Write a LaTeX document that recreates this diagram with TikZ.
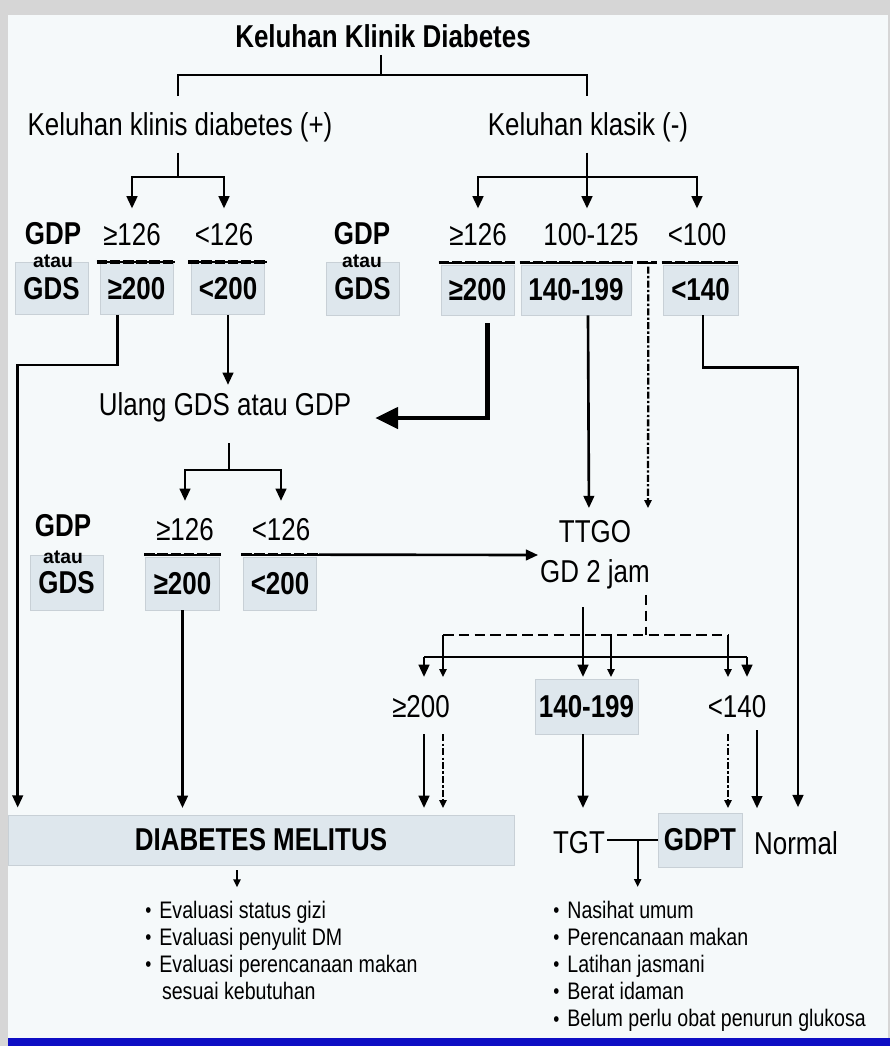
\documentclass[tikz,border=0pt]{standalone}
\usepackage{fontspec}
\setmainfont[FakeStretch=0.82]{Liberation Sans}
\newfontfamily\widefont{Liberation Sans}
\usetikzlibrary{arrows.meta, positioning, calc}

\definecolor{outergray}{RGB}{214,214,214}
\definecolor{panel}{RGB}{245,249,250}
\definecolor{boxfill}{RGB}{222,231,237}
\definecolor{boxline}{RGB}{200,208,214}
\definecolor{barblue}{RGB}{14,14,196}

\newcommand{\itemdot}{\makebox[8pt][l]{\fontsize{12}{12}\selectfont\raisebox{0.5pt}{•}}}

\begin{document}
\begin{tikzpicture}[x=0.02cm, y=-0.02cm,
  txt/.style={font=\fontsize{18}{22}\selectfont, inner sep=1pt},
  btxt/.style={font=\fontsize{18}{22}\selectfont\bfseries, inner sep=1pt},
  atau/.style={font=\widefont\fontsize{11}{11}\selectfont\bfseries, inner sep=0pt},
  valbox/.style={rectangle, fill=boxfill, draw=boxline, line width=0.4pt,
    minimum width=1.46cm, minimum height=1.04cm, inner sep=0pt,
    font=\fontsize{18}{22}\selectfont\bfseries},
  lst/.style={anchor=north west, align=left, inner sep=0pt,
    font=\fontsize{13.6}{15.4}\selectfont},
  link/.style={line width=1.5pt},
  arr/.style={link, -{Triangle[length=7pt,width=6pt]}},
  stip/.style={-{Triangle[length=4.5pt,width=4pt]}},
  sarr/.style={line width=1.2pt, stip},
  bigarr/.style={line width=2.4pt, -{Triangle[length=13pt,width=12pt]}},
  dashdot/.style={line width=1.3pt, dash pattern=on 4pt off 1.3pt on 1.3pt off 1.3pt},
  dashline/.style={line width=1.3pt, dash pattern=on 6pt off 3pt},
  sepline/.style={line width=2pt, dash pattern=on 6pt off 1.5pt,
    preaction={draw, solid, line width=1pt}}]

  \useasboundingbox (0,0) rectangle (890,1046);
  \fill[outergray] (0,0) rectangle (890,1046);
  \fill[panel] (8,15) rectangle (888,1038);
  \fill[barblue] (8,1038) rectangle (890,1046);

  % headings
  \node[btxt] (title) at (383,36) {Keluhan Klinik Diabetes};
  \node[txt] (klinis) at (180,127) {Keluhan klinis diabetes (+)};
  \node[txt] (klasik) at (588,127) {Keluhan klasik (-)};

  % first test, left
  \node[btxt] (gdpA) at (53,234) {GDP};
  \node[valbox] (gdsA) at (51.5,288.5) {GDS};
  \node[atau] (atauA) at (53,261) {atau};
  \node[txt] (geA) at (132,235) {≥126};
  \node[valbox] (gebA) at (136.5,288.5) {≥200};
  \node[txt] (ltA) at (224,235) {<126};
  \node[valbox] (ltbA) at (228,288.5) {<200};

  % first test, right
  \node[btxt] (gdpB) at (362,234) {GDP};
  \node[valbox, minimum height=1.06cm] (gdsB) at (362.5,288.5) {GDS};
  \node[atau] (atauB) at (362,261) {atau};
  \node[txt] (geB) at (478,235) {≥126};
  \node[valbox, minimum height=1.0cm] (gebB) at (477.5,290) {≥200};
  \node[txt] (midB) at (591,235) {100-125};
  \node[valbox, minimum width=2.2cm, minimum height=1.0cm] (midbB) at (576,290) {140-199};
  \node[txt] (ltB) at (697,235) {<100};
  \node[valbox, minimum width=1.5cm, minimum height=1.0cm] (ltbB) at (700.5,290) {<140};

  \node[txt] (ulang) at (225,407) {Ulang GDS atau GDP};

  % second test
  \node[btxt] (gdpC) at (63,526) {GDP};
  \node[valbox, minimum height=1.1cm] (gdsC) at (66.5,582.5) {GDS};
  \node[atau] (atauC) at (63,557) {atau};
  \node[txt] (geC) at (185,530) {≥126};
  \node[valbox, minimum width=1.48cm, minimum height=1.06cm] (gebC) at (182.5,583.5) {≥200};
  \node[txt] (ltC) at (281,530) {<126};
  \node[valbox, minimum height=1.06cm] (ltbC) at (280,583.5) {<200};

  \node[txt, align=center, font=\fontsize{18}{22.7}\selectfont] (ttgo) at (595,555) {TTGO\\GD 2 jam};

  % TTGO result
  \node[txt] (ge200D) at (421,707) {≥200};
  \node[valbox, minimum width=2.06cm, minimum height=1.1cm] (b140D) at (586.5,706.5) {140-199};
  \node[txt] (lt140D) at (737,707) {<140};

  % outcomes
  \node[valbox, minimum width=10.12cm, minimum height=1.0cm] (dm) at (261,840) {DIABETES MELITUS};
  \node[txt] (tgt) at (579,843) {TGT};
  \node[valbox, minimum width=1.68cm, minimum height=1.08cm] (gdpt) at (700,840) {GDPT};
  \node[txt] (normal) at (796,843) {Normal};

  \node[lst] (evalist) at (145,901) {\itemdot Evaluasi status gizi\\
    \itemdot Evaluasi penyulit DM\\
    \itemdot Evaluasi perencanaan makan\\
    \hspace*{9.5pt}sesuai kebutuhan};
  \node[lst] (advlist) at (553,901) {\itemdot Nasihat umum\\
    \itemdot Perencanaan makan\\
    \itemdot Latihan jasmani\\
    \itemdot Berat idaman\\
    \itemdot Belum perlu obat penurun glukosa};

  % separators
  \draw[sepline] ($(gebA.north west)+(-3,0)$) -- ($(gebA.north east)+(2,0)$);
  \draw[sepline] ($(ltbA.north west)+(-3,0)$) -- ($(ltbA.north east)+(2,0)$);
  \draw[sepline] ($(gebB.north west)+(-2,-2)$) -- ($(gebB.north east)+(1,-2)$);
  \draw[sepline] ($(midbB.north west)+(-1,-2)$) -- ($(midbB.north east)+(2,-2)$);
  \draw[sepline] ($(midbB.north east)+(6,-2)$) -- ($(midbB.north east)+(26,-2)$);
  \draw[sepline] ($(ltbB.north west)+(-1,-2)$) -- ($(ltbB.north east)+(0,-2)$);
  \draw[sepline] ($(gebC.north west)+(-1,-2)$) -- ($(gebC.north east)+(1,-2)$);
  \draw[sepline] ($(ltbC.north west)+(-2,-2)$) -- ($(ltbC.north east)+(2,-2)$);

  % junctions
  \coordinate (topj) at (381,75);
  \coordinate (lj) at (178,177);
  \coordinate (rj) at (587,177);
  \coordinate (uj) at (229,470);
  \coordinate (sj) at (583,657);
  \coordinate (sl) at (424,657);
  \coordinate (sr) at (747,657);
  \coordinate (dj) at (646,635);
  \coordinate (dl) at (443,635);
  \coordinate (dmid) at (611,635);
  \coordinate (dr) at (728,635);
  \coordinate (tiprow) at (0,677);
  \coordinate (dmrow) at (0,808);

  \draw[link, shorten <=3pt] (title.south -| topj) -- (topj);
  \draw[link, shorten <=8pt, shorten >=8pt] (klinis.north -| lj) |- (topj) -| (klasik.north -| rj);
  \draw[link, shorten <=5pt] (klinis.south -| lj) -- (lj);
  \draw[link, shorten <=5pt] (klasik.south -| rj) -- (rj);
  \draw[arr, shorten >=7.5pt] (lj) -| (geA.north);
  \draw[arr, shorten >=7.5pt] (lj) -| (ltA.north);
  \draw[arr, shorten >=7.5pt] (rj) -| (geB.north);
  \draw[arr, shorten >=7.5pt] (rj) -- (rj |- midB.north);
  \draw[arr, shorten >=7.5pt] (rj) -| (ltB.north);

  \draw[arr, shorten >=4pt] ($(gebA.south)+(-19,0)$) -- ++(0,50) -| ($(dm.north west)+(10,0)$);
  \draw[arr, shorten >=3pt] (ltbA.south) -- (ltbA.south |- ulang.north);
  \draw[bigarr] ($(gebB.south)+(10,8)$) |- ($(ulang.east)+(22,11)$);
  \draw[arr, shorten >=6pt] ($(midbB.south)+(12,0)$) -- ($(ttgo.north)+(-6,0)$);
  \draw[dashdot, stip, shorten >=6pt] ($(midbB.north east)+(17,2)$) -- ($(ttgo.north)+(53,0)$);
  \draw[arr] ($(ltbB.south)+(2.5,0)$) -- ++(0,52) -| ($(normal.north)+(2,-22)$);

  \draw[link, shorten <=11pt] (ulang.south -| uj) -- (uj);
  \draw[arr, shorten >=9pt] (uj) -| (geC.north);
  \draw[arr, shorten >=9pt] (uj) -| (ltC.north);
  \draw[arr] ($(ltbC.north east)+(2,-2)$) -- (ttgo.west);
  \draw[arr] (gebC.south) -- (gebC.south |- dmrow);

  \draw[link, shorten <=9pt] (ttgo.south -| sj) -- (sj);
  \draw[dashline, shorten <=2pt] (ttgo.south -| dj) -- (dj);
  \draw[link] (sl) -- (sr);
  \draw[dashline] (dl) -- (dr);
  \draw[arr] (sl) -- (sl |- tiprow);
  \draw[arr] (sj) -- (sj |- tiprow);
  \draw[arr] (sr) -- (sr |- tiprow);
  \draw[sarr] (dl) -- (dl |- tiprow);
  \draw[sarr] (dmid) -- (dmid |- tiprow);
  \draw[sarr] (dr) -- (dr |- tiprow);

  \draw[arr, shorten <=8pt] (ge200D.south -| sl) -- (sl |- dmrow);
  \draw[dashdot, stip, shorten <=8pt] (ge200D.south -| dl) -- (dl |- dmrow);
  \draw[arr] (b140D.south -| sj) -- (sj |- dmrow);
  \draw[dashdot, stip, shorten <=8pt] (lt140D.south -| dr) -- (dr |- dmrow);
  \draw[arr] ($(lt140D.south)+(20,10)$) -- ++(0,78);

  \draw[link] (tgt.east |- gdpt.west) -- (gdpt.west);
  \draw[sarr] ($(gdpt.west)+(-20,0)$) -- ++(0,47);
  \draw[sarr] ($(dm.south)+(-24,5)$) -- ++(0,17);
\end{tikzpicture}
\end{document}
